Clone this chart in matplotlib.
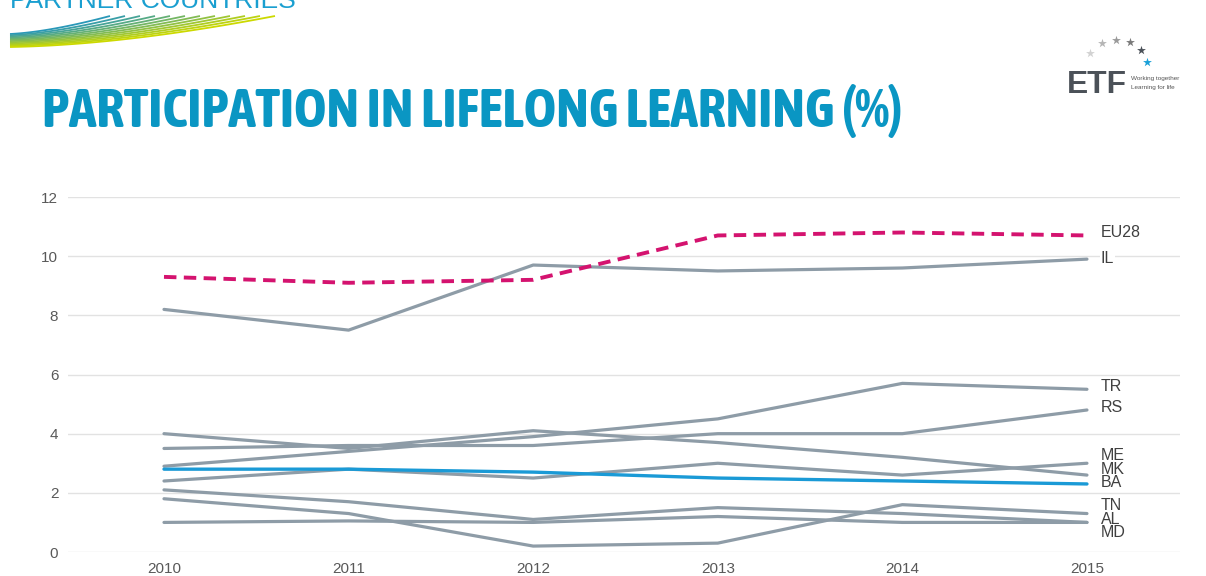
import numpy as np
import matplotlib
matplotlib.use("Agg")
import matplotlib.pyplot as plt
from matplotlib import font_manager

# ---------------- data ----------------
years = [2010, 2011, 2012, 2013, 2014, 2015]
EU28 = [9.3, 9.1, 9.2, 10.7, 10.8, 10.7]
IL = [8.2, 7.5, 9.7, 9.5, 9.6, 9.9]
TR = [2.9, 3.4, 3.9, 4.5, 5.7, 5.5]
RS = [3.5, 3.6, 3.6, 4.0, 4.0, 4.8]
ME = [2.4, 2.8, 2.5, 3.0, 2.6, 3.0]
MK = [4.0, 3.5, 4.1, 3.7, 3.2, 2.6]
BA = [2.8, 2.8, 2.7, 2.5, 2.4, 2.3]
TN = [1.8, 1.3, 0.2, 0.3, 1.6, 1.3]
AL = [2.1, 1.7, 1.1, 1.5, 1.3, 1.0]
MD = [1.0, 1.05, 1.0, 1.2, 1.0, 1.0]
y_ticks = [0, 2, 4, 6, 8, 10, 12]

series = {"EU28": EU28, "IL": IL, "TR": TR, "RS": RS, "ME": ME,
          "MK": MK, "BA": BA, "TN": TN, "AL": AL, "MD": MD}

# label vertical offsets (pixels, up positive) for the end labels
label_offset_px = {"EU28": 3, "IL": 1, "TR": 3, "RS": 2, "ME": 8, "MK": 6,
                   "BA": 1, "TN": 8.5, "AL": 3, "MD": -10.5}
boxed_labels = ["IL", "BA"]

W, H = 1206, 576
fig = plt.figure(figsize=(W / 100, H / 100), dpi=100)
fig.patch.set_facecolor("white")

fonts = font_manager.fontManager.ttflist
avail = {f.name for f in fonts}
sans = "Liberation Sans" if "Liberation Sans" in avail else "DejaVu Sans"

# pick a condensed / narrow bold family if one exists
cond_family, cond_stretch = "DejaVu Sans", "condensed"
for f in fonts:
    nm = f.name
    if ("Narrow" in nm or "Condensed" in nm) and f.weight in ("bold", 700, "700"):
        cond_family, cond_stretch = nm, "normal"
        break
else:
    has_dvc = any(f.name == "DejaVu Sans" and f.stretch == "condensed" for f in fonts)
    if not has_dvc:
        cond_family, cond_stretch = sans, "normal"

renderer = fig.canvas.get_renderer()


def fit_text(axh, x, y, s, target_w, size0, **kw):
    t = axh.text(x, y, s, fontsize=size0, **kw)
    w = t.get_window_extent(renderer=renderer).width
    if w > 0:
        t.set_fontsize(size0 * target_w / w)
    return t


# ---------------- decoration layer (pixel coordinates) ----------------
deco = fig.add_axes([0, 0, 1, 1], zorder=0)
deco.set_xlim(0, W)
deco.set_ylim(H, 0)
deco.axis("off")

# top-left header text (cut off at top)
deco.text(10, 8, "PARTNER COUNTRIES", fontsize=19, color="#1a9fd0",
          family=sans, va="baseline", ha="left")

# swoosh
teal = np.array([0x2a, 0x98, 0xb8]) / 255
lime = np.array([0xcc, 0xd9, 0x00]) / 255
n = 12
for i in range(n):
    t = i / (n - 1)
    y0 = 34 + 13 * t
    xe = 110 + 165 * t
    ye = 16
    tt = np.linspace(0, 1, 60)
    p0 = np.array([10, y0]); p1 = np.array([xe * 0.45, y0 - 2]); p2 = np.array([xe, ye])
    pts = ((1 - tt) ** 2)[:, None] * p0 + (2 * (1 - tt) * tt)[:, None] * p1 + (tt ** 2)[:, None] * p2
    c = teal * (1 - t) + lime * t
    deco.plot(pts[:, 0], pts[:, 1], color=c, lw=1.3, solid_capstyle="butt")

# main title
fit_text(deco, 42, 127, "PARTICIPATION IN LIFELONG LEARNING (%)", 863, 37,
         color="#0a96c3", family=cond_family, stretch=cond_stretch,
         weight="bold", va="baseline", ha="left")

# ETF logo
fit_text(deco, 1067, 93, "ETF", 60, 29, color="#4b5158", family=sans,
         weight="bold", va="baseline", ha="left")
deco.text(1131, 80, "Working together", fontsize=4.6, color="#555555",
          family=sans, va="baseline", ha="left")
deco.text(1131, 89, "Learning for life", fontsize=4.6, color="#555555",
          family=sans, va="baseline", ha="left")
star_x = [1090, 1102, 1116, 1130, 1141, 1147]
star_y = [53, 43, 40, 42, 50, 62]
star_c = ["#d2d2d2", "#b5b5b5", "#9a9a9a", "#7a7a7a", "#4b5158", "#1aa0d8"]
for sx, sy, sc in zip(star_x, star_y, star_c):
    deco.scatter([sx], [sy], marker="*", s=45, color=sc, linewidths=0)

# ---------------- main chart ----------------
ax = fig.add_axes([68 / W, 24 / H, (1180 - 68) / W, (552 - 197) / H], zorder=2)
ax.patch.set_alpha(0)
ax.set_xlim(2009.48, 2015.504)
ax.set_ylim(0, 12)
ax.set_yticks(y_ticks)
ax.set_xticks(years)
ax.set_xticklabels([str(y) for y in years])
ax.grid(axis="y", color="#e2e2e2", lw=1)
ax.set_axisbelow(True)
for s in ax.spines.values():
    s.set_visible(False)
ax.tick_params(axis="both", length=0, labelsize=11, labelcolor="#595959")
ax.tick_params(axis="y", pad=7)
ax.tick_params(axis="x", pad=7)
for lab in ax.get_xticklabels() + ax.get_yticklabels():
    lab.set_family(sans)

gray = "#8e9ca7"
for name, vals in series.items():
    if name == "EU28":
        ax.plot(years, vals, color="#d4136f", lw=2.8, ls=(0, (3.2, 1.9)),
                zorder=5, clip_on=False)
    elif name == "BA":
        ax.plot(years, vals, color="#1a9ad6", lw=2.4, zorder=4,
                solid_capstyle="round", clip_on=False)
    else:
        ax.plot(years, vals, color=gray, lw=2.3, zorder=3,
                solid_capstyle="round", clip_on=False)

order = boxed_labels + [k for k in series if k not in boxed_labels]
for i, name in enumerate(order):
    vals = series[name]
    kw = {}
    if name in boxed_labels:
        kw["bbox"] = dict(boxstyle="square,pad=0.05", fc="white", ec="none")
    ax.annotate(name, xy=(years[-1], vals[-1]),
                xytext=(10, label_offset_px[name] * 0.72),
                textcoords="offset points", va="center", ha="left",
                fontsize=11.5, color="#404040", family=sans,
                zorder=6 + i * 0.01, annotation_clip=False, **kw)

fig.savefig("out.png", dpi=100, facecolor="white")
